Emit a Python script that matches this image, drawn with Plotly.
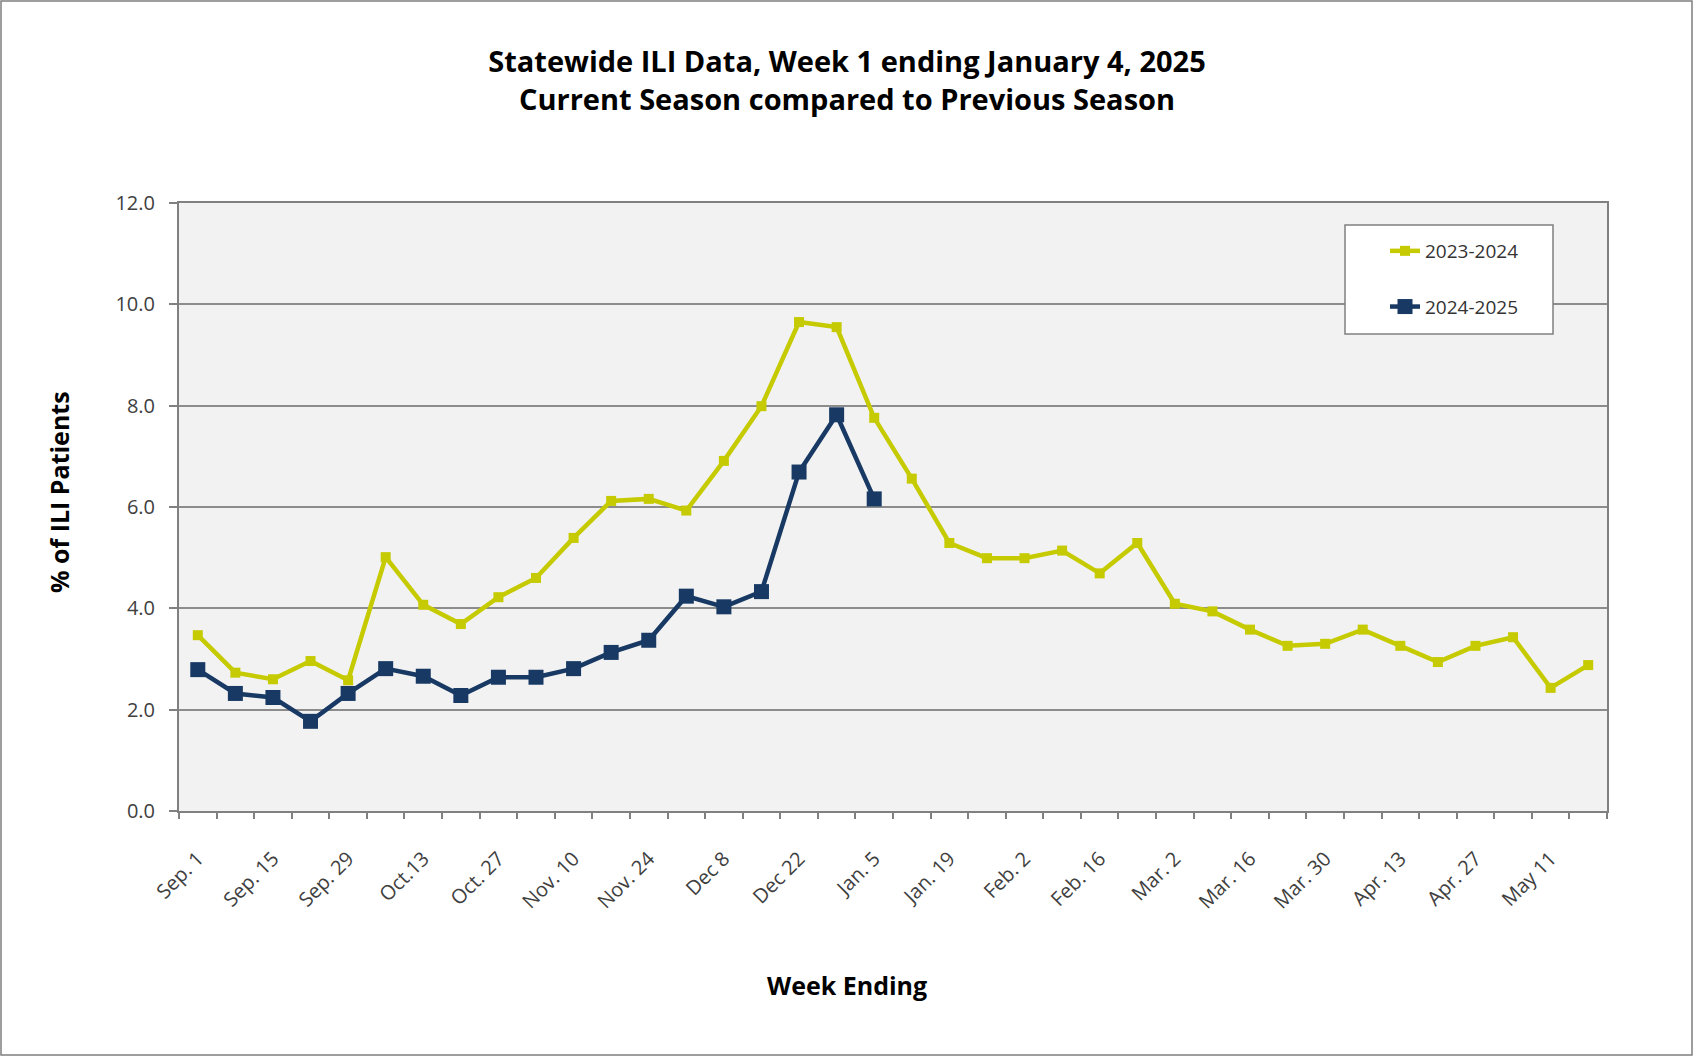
import plotly.graph_objects as go

weeks = ["Sep. 1", "Sep. 8", "Sep. 15", "Sep. 22", "Sep. 29", "Oct. 6", "Oct.13", "Oct. 20",
         "Oct. 27", "Nov. 3", "Nov. 10", "Nov. 17", "Nov. 24", "Dec 1", "Dec 8", "Dec 15",
         "Dec 22", "Dec 29", "Jan. 5", "Jan. 12", "Jan. 19", "Jan. 26", "Feb. 2", "Feb. 9",
         "Feb. 16", "Feb. 23", "Mar. 2", "Mar. 9", "Mar. 16", "Mar. 23", "Mar. 30", "Apr. 6",
         "Apr. 13", "Apr. 20", "Apr. 27", "May 4", "May 11", "May 18"]

season_2023_2024 = [3.47, 2.73, 2.60, 2.96, 2.58, 5.01, 4.07, 3.69, 4.22, 4.60, 5.39, 6.12,
                    6.16, 5.93, 6.91, 7.99, 9.65, 9.55, 7.76, 6.56, 5.29, 4.99, 4.99, 5.14,
                    4.69, 5.29, 4.09, 3.94, 3.58, 3.26, 3.30, 3.58, 3.26, 2.94, 3.26, 3.43,
                    2.43, 2.88]

season_2024_2025 = [2.79, 2.32, 2.24, 1.77, 2.32, 2.81, 2.66, 2.28, 2.64, 2.64, 2.81, 3.13,
                    3.37, 4.24, 4.03, 4.33, 6.69, 7.82, 6.16]

tick_labels = [w if i % 2 == 0 else "" for i, w in enumerate(weeks)]

YELLOW = "#c5cb00"
NAVY = "#173963"

W, H = 1694, 1057
L, R, T, B = 179, 87, 203, 246
pw, ph = W - L - R, H - T - B


def px_x(px):
    return (px - L) / pw


def px_y(py):
    return (H - B - py) / ph


fig = go.Figure()
fig.add_trace(go.Scatter(
    x=weeks, y=season_2023_2024, name="2023-2024", mode="lines+markers",
    line=dict(color=YELLOW, width=4.5), marker=dict(symbol="square", size=10, color=YELLOW),
    legendgroup="a"))
fig.add_trace(go.Scatter(
    x=weeks[:len(season_2024_2025)], y=season_2024_2025, name="2024-2025", mode="lines+markers",
    line=dict(color=NAVY, width=4.5), marker=dict(symbol="square", size=15, color=NAVY),
    legendgroup="b"))

fig.update_layout(
    width=W, height=H,
    margin=dict(l=L, r=R, t=T, b=B, autoexpand=False),
    paper_bgcolor="white", plot_bgcolor="#f2f2f2",
    font=dict(family="Open Sans", color="#404040", size=17),
    title=dict(text="<b>Statewide ILI Data, Week 1 ending January 4, 2025<br>Current Season compared to Previous Season</b>",
               x=0.5, xanchor="center", y=1 - 72 / H, yanchor="middle",
               font=dict(family="Open Sans", size=29, color="black")),
    showlegend=True,
    legend=dict(x=px_x(1385), y=px_y(232), xanchor="left", yanchor="top",
                bgcolor="rgba(0,0,0,0)", borderwidth=0,
                font=dict(size=19, color="#333333"), tracegroupgap=28),
)

fig.update_xaxes(
    type="category", categoryorder="array", categoryarray=weeks,
    range=[-0.5, len(weeks) - 0.5],
    tickmode="array", tickvals=weeks, ticktext=tick_labels, tickangle=-45,
    tickson="boundaries", ticks="outside", ticklen=6, tickwidth=1.5, tickcolor="#808080",
    ticklabelstandoff=26,
    showgrid=False, showline=True, linecolor="#808080", linewidth=2, mirror=True,
    tickfont=dict(size=20, color="#404040"),
)
fig.update_yaxes(
    range=[0, 12], dtick=2, tickformat=".1f",
    ticks="outside", ticklen=8, tickwidth=1.5, tickcolor="#808080",
    ticklabelstandoff=10,
    showgrid=True, gridcolor="#8c8c8c", gridwidth=1.5, zeroline=False,
    showline=True, linecolor="#808080", linewidth=2, mirror=True,
    tickfont=dict(size=20, color="#404040"),
)

fig.add_annotation(text="<b>% of ILI Patients</b>", xref="paper", yref="paper",
                   x=px_x(59), y=px_y(492), textangle=-90, showarrow=False,
                   font=dict(size=25, color="black"), xanchor="center", yanchor="middle")
fig.add_annotation(text="<b>Week Ending</b>", xref="paper", yref="paper",
                   x=px_x(847), y=px_y(985), showarrow=False,
                   font=dict(size=25, color="black"), xanchor="center", yanchor="middle")

# legend box
fig.add_shape(type="rect", xref="paper", yref="paper",
              x0=px_x(1345), x1=px_x(1553), y0=px_y(334), y1=px_y(225),
              line=dict(color="#808080", width=1.5), fillcolor="white", layer="above")
# outer border
fig.add_shape(type="rect", xref="paper", yref="paper",
              x0=px_x(1), x1=px_x(W - 2), y0=px_y(H - 2), y1=px_y(1),
              line=dict(color="#7f7f7f", width=1.5), fillcolor="rgba(0,0,0,0)", layer="above")

fig.write_html("out.html", config={"displayModeBar": False},
               post_script="document.body.style.margin='0';document.body.style.overflow='hidden';")
